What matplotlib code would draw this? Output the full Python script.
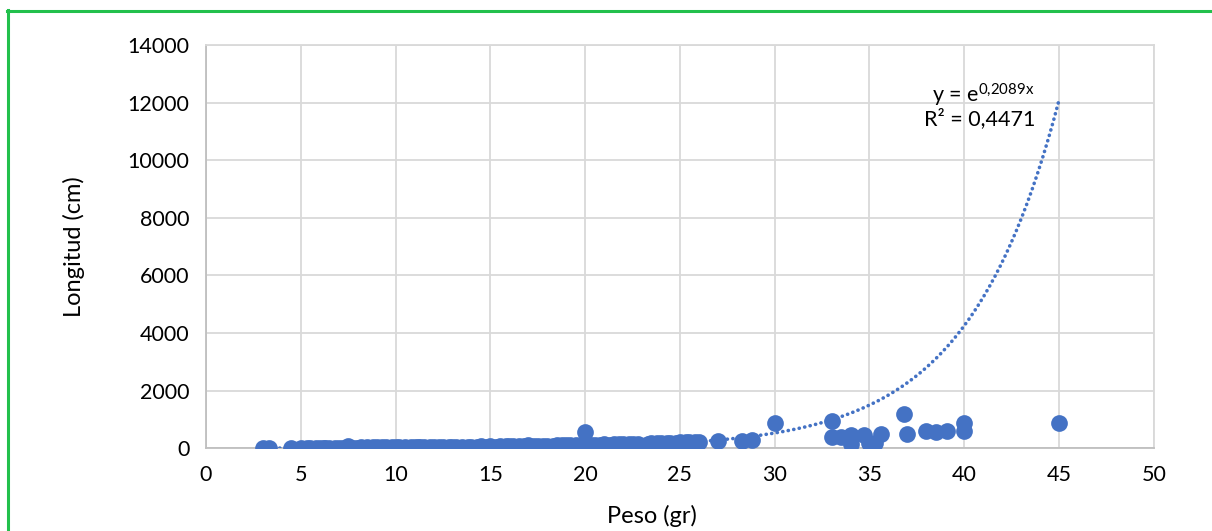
import numpy as np
import matplotlib
matplotlib.use("Agg")
import matplotlib.pyplot as plt
from matplotlib.lines import Line2D

plt.rcParams['font.family'] = ['Lato', 'DejaVu Sans']
plt.rcParams['mathtext.fontset'] = 'custom'
plt.rcParams['mathtext.rm'] = 'Lato'
plt.rcParams['mathtext.it'] = 'Lato'

# Data: weight (gr) vs length (cm)
peso = [3.0, 3.3, 4.5,
        5.0, 5.3, 5.5, 5.8, 6.0, 6.2, 6.3, 6.5, 6.8, 7.0, 7.2, 7.5, 7.8, 8.0, 8.2, 8.5,
        8.8, 9.0, 9.3, 9.5, 9.8, 10.0, 10.2, 10.5, 10.8, 11.0, 11.2, 11.3, 11.5, 11.8,
        12.0, 12.3, 12.5, 12.8, 13.0, 13.2, 13.5, 13.8, 14.0, 14.3, 14.5, 14.8,
        15.0, 15.3, 15.5, 15.8, 16.0, 16.2, 16.5, 16.8, 17.0, 17.3, 17.5, 17.8,
        18.0, 18.3, 18.5, 18.8, 19.0, 19.2, 19.5, 19.8, 20.0, 20.0, 20.3, 20.5, 20.8,
        21.0, 21.3, 21.5, 21.8, 22.0, 22.3, 22.5, 22.8, 23.0, 23.3, 23.5, 23.8,
        24.0, 24.3, 24.5, 24.8, 25.0, 25.0, 25.3, 25.5, 25.8, 26.0,
        27.0, 28.3, 28.8, 30.0,
        33.0, 33.0, 33.5, 34.0, 34.0, 34.7, 35.0, 35.3, 35.6, 36.8, 37.0,
        38.0, 38.5, 39.1, 40.0, 40.0, 45.0]
longitud = [5, 5, 5,
            10, 10, 10, 15, 10, 15, 15, 15, 20, 20, 20, 80, 20, 20, 25, 25,
            25, 25, 30, 30, 30, 35, 30, 35, 35, 40, 35, 35, 40, 40,
            40, 45, 45, 45, 50, 45, 50, 50, 55, 50, 60, 55,
            60, 55, 65, 65, 70, 65, 75, 75, 120, 80, 85, 85,
            90, 85, 95, 95, 100, 95, 110, 105, 110, 550, 115, 120, 125,
            130, 125, 140, 135, 145, 140, 150, 150, 20, 160, 170, 170,
            180, 175, 190, 190, 200, 30, 210, 215, 210, 210,
            240, 240, 270, 870,
            940, 380, 380, 450, 150, 450, 170, 170, 480, 1170, 480,
            590, 550, 590, 860, 590, 870]

coef = 0.2089
r2 = 0.4471

x_ticks = list(range(0, 51, 5))
y_ticks = list(range(0, 14001, 2000))

blue = '#4472C4'
grid_c = '#D9D9D9'

fig = plt.figure(figsize=(12.12, 5.31), dpi=100)
ax = fig.add_axes([0.170, 0.156, 0.782, 0.759])

ax.scatter(peso, longitud, s=145, color=blue, zorder=3, linewidths=0)

xt = np.linspace(min(peso), max(peso), 300)
ax.plot(xt, np.exp(coef * xt), color=blue, lw=2.6, linestyle=(0, (0.05, 1.5)),
        dash_capstyle='round', solid_capstyle='round', zorder=4)

ax.set_xlim(0, 50)
ax.set_ylim(0, 14000)
ax.set_xticks(x_ticks)
ax.set_yticks(y_ticks)
ax.set_xticklabels([str(v) for v in x_ticks])
ax.set_yticklabels([str(v) for v in y_ticks])
ax.grid(True, color=grid_c, lw=1.3, zorder=0)
ax.set_axisbelow(True)
for sp in ax.spines.values():
    sp.set_color(grid_c)
    sp.set_linewidth(1.3)
ax.spines['bottom'].set_color('#BFBFBF')
ax.spines['left'].set_color('#BFBFBF')
ax.tick_params(length=0, labelsize=15.5, pad=12, colors='black')

ax.set_xlabel('Peso (gr)', fontsize=17)
ax.set_ylabel('Longitud (cm)', fontsize=17)
ax.xaxis.set_label_coords(0.47, -0.14)
ax.yaxis.set_label_coords(-0.128, 0.5)

ax.text(38.3, 12250, r'y = e$^{0{,}2089x}$', fontsize=15.5, ha='left', va='center')
ax.text(37.9, 11450, 'R² = 0,4471', fontsize=15.5, ha='left', va='center')

# green frame (top and left edges visible)
fig.add_artist(Line2D([0.0058, 1.0], [0.980, 0.980], color='#22C04C', lw=2.2,
                      transform=fig.transFigure))
fig.add_artist(Line2D([0.0070, 0.0070], [0.0, 0.981], color='#22C04C', lw=2.2,
                      transform=fig.transFigure))

fig.savefig('out.png', dpi=100)
